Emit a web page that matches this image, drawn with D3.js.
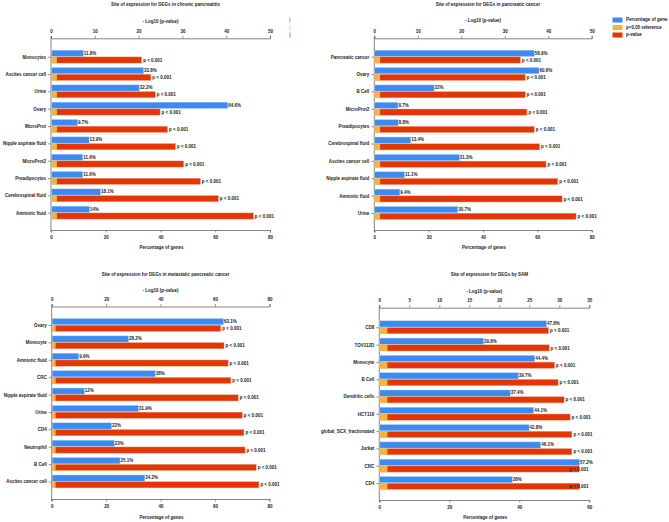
<!DOCTYPE html>
<html><head><meta charset="utf-8">
<script src="https://cdn.jsdelivr.net/npm/d3@7"></script>
<style>
html,body{margin:0;padding:0;background:#fff;}
svg text{font-family:"Liberation Sans",Arial,sans-serif;font-weight:bold;fill:#222;}
</style></head>
<body>
<svg id="chart" width="669" height="522"></svg>
<script>
// ---------- data ----------
const cpTitle = "Site of expression for DEGs in chronic pancreatitis";
const cpCategories = ["Monocytes","Ascites cancer cell","Urine","Ovary","MicroProt","Nipple aspirate fluid","MicroProt2","Preadipocytes","Cerebrospinal fluid","Amniotic fluid"];
const cpPercent = [11.8, 33.8, 32.2, 64.6, 9.7, 13.9, 11.6, 11.6, 18.1, 14];
const cpLogP = [20.7, 22.8, 23.8, 24.9, 26.6, 28.4, 30.3, 34.1, 38.2, 46.2];

const pcTitle = "Site of expression for DEGs in pancreatic cancer";
const pcCategories = ["Pancreatic cancer","Ovary","B Cell","MicroProt2","Preadipocytes","Cerebrospinal fluid","Ascites cancer cell","Nipple aspirate fluid","Amniotic fluid","Urine"];
const pcPercent = [58.9, 60.6, 22, 8.7, 8.8, 13.4, 31.3, 11.1, 9.4, 30.7];
const pcLogP = [33.6, 34.7, 34.7, 35.1, 36.8, 38.0, 39.5, 42.2, 43.2, 46.4];

const mpcTitle = "Site of expression for DEGs in metastatic pancreatic cancer";
const mpcCategories = ["Ovary","Monocyte","Amniotic fluid","CRC","Nipple aspirate fluid","Urine","CD4","Neutrophil","B Cell","Ascites cancer cell"];
const mpcPercent = [63.1, 28.2, 9.9, 38, 12, 31.9, 22, 23, 25.1, 34.2];
const mpcLogP = [62.1, 63.3, 64.8, 65.8, 68.5, 70.0, 70.6, 71.0, 75.1, 76.1];

const samTitle = "Site of expression for DEGs by SAM";
const samCategories = ["CD8","TOV112D","Monocyte","B Cell","Dendritic cells","HCT116","global_SCX_fractionated","Jurkat","CRC","CD4"];
const samPercent = [47.8, 29.8, 44.4, 39.7, 37.4, 44.1, 42.8, 46.1, 57.2, 38];
const samLogP = [28.2, 28.3, 29.2, 29.8, 30.8, 31.8, 32.1, 32.1, 33.3, 33.4];

const refLogP = 1.3; // -log10(0.05)
const pLabel = "p < 0.001";
const topTicks50 = [0,10,20,30,40,50];
const topTicks80 = [0,20,40,60,80];
const topTicks35 = [0,5,10,15,20,25,30,35];
const bottomTicks80 = [0,20,40,60,80];
const bottomTicks60 = [0,20,40,60];
const topAxisTitle = "- Log10 (p-value)";
const bottomAxisTitle = "Percentage of genes";
const legendLabels = ["Percentage of gene","p=0.05 reference","p-value"];

// ---------- style ----------
const BLUE = "#3b8bf0", ORANGE = "#f8b437", RED = "#e43604";
const FS = 4.5;

const svg = d3.select("#chart");

function panel(o) {
  const g = svg.append("g");
  const xTop = d3.scaleLinear().domain([0, o.topMax]).range([o.x0, o.x1]);
  const xBot = d3.scaleLinear().domain([0, o.botMax]).range([o.x0, o.x1]);
  const y = d3.scalePoint().domain(o.cats).range([o.yFirst, o.yLast]);
  const cx = (o.x0 + o.x1) / 2;

  g.append("text").attr("x", cx + 5).attr("y", o.titleY).attr("text-anchor","middle")
    .attr("dominant-baseline","middle").style("font-size", FS + "px").text(o.title);
  g.append("text").attr("x", cx).attr("y", o.logY).attr("text-anchor","middle")
    .attr("dominant-baseline","middle").style("font-size", FS + "px").text(topAxisTitle);
  g.append("text").attr("x", cx + 1).attr("y", o.botTitleY).attr("text-anchor","middle")
    .attr("dominant-baseline","middle").style("font-size", FS + "px").text(bottomAxisTitle);

  const at = g.append("g").attr("transform", `translate(0,${o.topY})`)
    .call(d3.axisTop(xTop).tickValues(o.topTicks).tickSize(2.5).tickPadding(3));
  const ab = g.append("g").attr("transform", `translate(0,${o.botY})`)
    .call(d3.axisBottom(xBot).tickValues(o.botTicks).tickSize(2.5).tickPadding(3));
  const al = g.append("g").attr("transform", `translate(${o.x0},0)`)
    .call(d3.axisLeft(y).tickSize(3).tickPadding(2));
  al.select(".domain").remove();
  g.append("line").attr("x1", o.x0).attr("x2", o.x0).attr("y1", o.topY - 2).attr("y2", o.botY + 2)
    .attr("stroke", "#666").attr("stroke-width", 0.8);
  [at, ab, al].forEach(a => {
    a.selectAll("text").style("font-size", FS + "px").style("font-family", "Liberation Sans, Arial, sans-serif")
      .style("font-weight","bold").attr("fill", "#222");
    a.selectAll("line").attr("stroke", "#666").attr("stroke-width", 0.7);
    a.selectAll(".domain").attr("stroke", "#666").attr("stroke-width", 0.8);
  });

  const bh = 6.5;
  const rows = o.cats.map((c, i) => ({c, pct: o.pct[i], lp: o.lp[i]}));
  g.selectAll(".b").data(rows).join("rect")
    .attr("x", o.x0 + 0.5).attr("y", d => y(d.c) - bh)
    .attr("width", d => xBot(d.pct) - o.x0 - 0.5).attr("height", bh - 0.3)
    .attr("fill", BLUE).attr("stroke", "#a9cdf8").attr("stroke-width", 0.4);
  g.selectAll(".r").data(rows).join("rect")
    .attr("x", o.x0 + 0.5).attr("y", d => y(d.c) + 0.2)
    .attr("width", d => xTop(d.lp) - o.x0 - 0.5).attr("height", bh - 0.3)
    .attr("fill", RED).attr("stroke", "#f2a58a").attr("stroke-width", 0.4);
  g.selectAll(".o").data(rows).join("rect")
    .attr("x", o.x0 + 0.5).attr("y", d => y(d.c) + 0.2)
    .attr("width", xTop(refLogP) - o.x0 - 0.5).attr("height", bh - 0.3)
    .attr("fill", ORANGE).attr("stroke", "#fbd699").attr("stroke-width", 0.3);
  g.selectAll(".bl").data(rows).join("text")
    .attr("x", d => xBot(d.pct) + 0.5).attr("y", d => y(d.c) - bh / 2)
    .attr("dominant-baseline","middle").style("font-size", FS + "px").text(d => d.pct + "%");
  g.selectAll(".pl").data(rows).join("text")
    .attr("x", d => {
      const px = xTop(d.lp) + 1.5;
      return (o.clampAt && px > o.clampAt) ? o.clampTo : px;
    })
    .attr("y", d => y(d.c) + bh / 2 + 0.5)
    .attr("dominant-baseline","middle").style("font-size", FS + "px").text(pLabel);
}

panel({title: cpTitle, cats: cpCategories, pct: cpPercent, lp: cpLogP,
  topMax: 50, topTicks: topTicks50, botMax: 80, botTicks: bottomTicks80,
  x0: 51, x1: 270, titleY: 4.5, logY: 21.5, topY: 38.3, botY: 230, botTitleY: 248,
  yFirst: 56.7, yLast: 212.7});
panel({title: pcTitle, cats: pcCategories, pct: pcPercent, lp: pcLogP,
  topMax: 50, topTicks: topTicks50, botMax: 80, botTicks: bottomTicks80,
  x0: 374.3, x1: 591.7, titleY: 4.5, logY: 21, topY: 38.3, botY: 230, botTitleY: 248,
  yFirst: 56.7, yLast: 213});
panel({title: mpcTitle, cats: mpcCategories, pct: mpcPercent, lp: mpcLogP,
  topMax: 80, topTicks: topTicks80, botMax: 80, botTicks: bottomTicks80,
  x0: 51.7, x1: 269.5, titleY: 275, logY: 290.5, topY: 306.5, botY: 499, botTitleY: 517.5,
  yFirst: 325, yLast: 481.5});
panel({title: samTitle, cats: samCategories, pct: samPercent, lp: samLogP,
  topMax: 35, topTicks: topTicks35, botMax: 60, botTicks: bottomTicks60,
  x0: 379.3, x1: 589.3, titleY: 274.5, logY: 292, topY: 307.7, botY: 500, botTitleY: 518,
  yFirst: 327.3, yLast: 483, clampAt: 576, clampTo: 569.3});

const legColors = [BLUE, ORANGE, RED];
const legY = [20, 27.5, 35];
const leg = svg.append("g");
leg.selectAll("rect").data(legendLabels).join("rect")
  .attr("x", 612.5).attr("y", (d, i) => legY[i] - 2.5).attr("width", 10).attr("height", 5)
  .attr("fill", (d, i) => legColors[i]);
leg.selectAll("text").data(legendLabels).join("text")
  .attr("x", 626).attr("y", (d, i) => legY[i]).attr("dominant-baseline","middle")
  .style("font-size", FS + "px").text(d => d);
const leg2 = svg.append("g");
leg2.selectAll("rect").data(legendLabels).join("rect")
  .attr("x", 289).attr("y", (d, i) => legY[i] - 2.5).attr("width", 1.6).attr("height", 5)
  .attr("fill", (d, i) => legColors[i]).attr("opacity", 0.45);
</script>
</body></html>
